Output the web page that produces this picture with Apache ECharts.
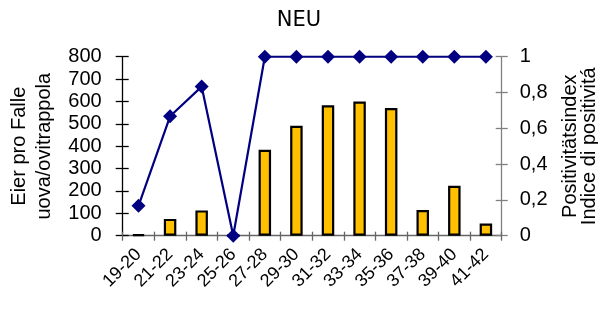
<!DOCTYPE html>
<html>
<head>
<meta charset="utf-8">
<script src="https://cdn.jsdelivr.net/npm/echarts@6/dist/echarts.min.js"></script>
<style>html,body{margin:0;padding:0;background:#fff}#c{width:598px;height:309px}</style>
</head>
<body>
<div id="c"></div>
<script>
const categories = ['19-20','21-22','23-24','25-26','27-28','29-30','31-32','33-34','35-36','37-38','39-40','41-42'];
const eggs = [5, 75, 113, 0, 384, 491, 583, 600, 571, 115, 223, 54];
const positivity = [0.167, 0.667, 0.833, 0, 1, 1, 1, 1, 1, 1, 1, 1];

const chart = echarts.init(document.getElementById('c'), null, {renderer: 'canvas'});
const F = 'Arial, "Liberation Sans", sans-serif';
const comma = v => String(v).replace('.', ',');
chart.setOption({
  animation: false,
  title: {text: 'NEU', left: 'center', top: 5, textStyle: {fontFamily: '"DejaVu Sans", sans-serif', fontWeight: 'normal', fontSize: 21, color: '#000'}},
  grid: {left: 122.7, right: 96.3, top: 56.7, bottom: 73.3, containLabel: false, outerBoundsMode: 'none'},
  xAxis: [{
    type: 'category', data: categories, boundaryGap: true,
    axisLine: {lineStyle: {color: '#666', width: 1.3}},
    axisTick: {show: true, length: 5, interval: 0, lineStyle: {color: '#666', width: 1.3}},
    axisLabel: {rotate: 45, interval: 0, fontSize: 18, fontFamily: F, color: '#000', margin: 16}
  }, {
    type: 'category', data: categories, position: 'bottom', boundaryGap: true,
    axisLine: {show: false},
    axisTick: {show: true, inside: true, length: 4, interval: 0, lineStyle: {color: '#666', width: 1.3}},
    axisLabel: {show: false}
  }],
  yAxis: [{
    type: 'value', min: 0, max: 800, interval: 100, position: 'left',
    name: 'Eier pro Falle\nuova/ovitrappola', nameLocation: 'middle', nameGap: 66, nameRotate: 90,
    nameTextStyle: {fontSize: 20, fontFamily: F, color: '#000', lineHeight: 25},
    axisLine: {show: true, lineStyle: {color: '#000', width: 1.3}},
    axisTick: {show: true, length: 7, lineStyle: {color: '#000', width: 1.3}},
    axisLabel: {fontSize: 20, fontFamily: F, color: '#000', margin: 21},
    splitLine: {show: false}
  }, {
    type: 'value', min: 0, max: 1, interval: 0.2, position: 'right',
    name: 'Positivitätsindex\nIndice di positivitá', nameLocation: 'middle', nameGap: 59, nameRotate: 90,
    nameTextStyle: {fontSize: 20, fontFamily: F, color: '#000', lineHeight: 19},
    axisLine: {show: true, lineStyle: {color: '#808080', width: 1.3}},
    axisTick: {show: true, length: 6, lineStyle: {color: '#808080', width: 1.3}},
    axisLabel: {fontSize: 20, fontFamily: F, color: '#000', margin: 18, formatter: comma},
    splitLine: {show: false}
  }, {
    type: 'value', min: 0, max: 800, interval: 100, position: 'left',
    axisLine: {show: false}, axisLabel: {show: false}, splitLine: {show: false},
    axisTick: {show: true, inside: true, length: 6, lineStyle: {color: '#000', width: 1.3}}
  }, {
    type: 'value', min: 0, max: 1, interval: 0.2, position: 'right',
    axisLine: {show: false}, axisLabel: {show: false}, splitLine: {show: false},
    axisTick: {show: true, inside: true, length: 6, lineStyle: {color: '#808080', width: 1.3}}
  }],
  series: [{
    type: 'bar', data: eggs, yAxisIndex: 0, barWidth: 12.5,
    itemStyle: {color: '#FFC000', borderColor: '#000', borderWidth: 2.2}
  }, {
    type: 'line', data: positivity, yAxisIndex: 1, z: 5,
    lineStyle: {color: '#000080', width: 2.2},
    itemStyle: {color: '#000080'},
    symbol: 'diamond', symbolSize: [14, 14], showAllSymbol: true
  }]
});
</script>
</body>
</html>
